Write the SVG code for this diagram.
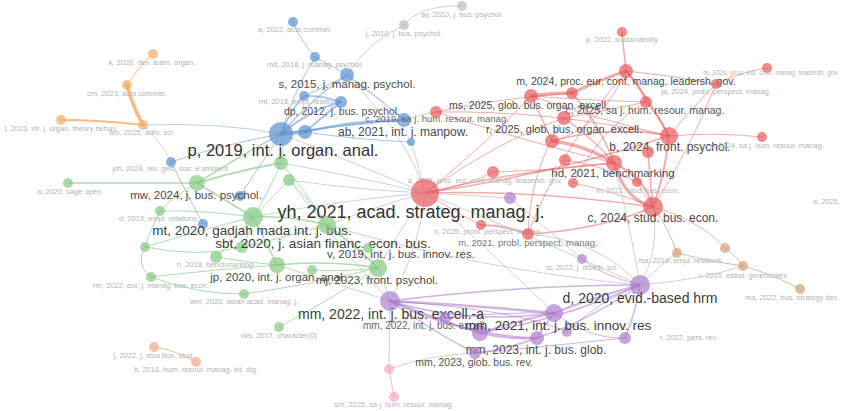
<svg xmlns="http://www.w3.org/2000/svg" width="841" height="411" viewBox="0 0 841 411">
<style>
text{font-family:"Liberation Sans",Arial,sans-serif;text-anchor:middle}
.f{font-size:7.5px;fill:#b4b4b4}
.s{font-size:10px;fill:#666}
.m{font-size:11.5px;fill:#4a4a4a}
.l{font-size:13.5px;fill:#3c3c3c}
.xl{font-size:16.5px;fill:#333}
.xxl{font-size:18px;fill:#333}
path{fill:none;stroke-linecap:round}
.er{stroke:#e5595e;stroke-opacity:.5}
.eb{stroke:#5f93d3;stroke-opacity:.55}
.eg{stroke:#7cc47c;stroke-opacity:.6}
.ep{stroke:#a268c6;stroke-opacity:.5}
.eo{stroke:#f5a04e;stroke-opacity:.7}
.ek{stroke:#c6c6c6;stroke-opacity:.8}
.en{stroke:#d0a080;stroke-opacity:.7}
.ei{stroke:#f2a6c6;stroke-opacity:.7}
.es{stroke:#f4a58a;stroke-opacity:.7}
circle{fill-opacity:.7}
.cr{fill:#e8585d}
.cb{fill:#5b90d2}
.cg{fill:#86c985}
.cp{fill:#ad7fcd}
.co{fill:#f7ad62}
.cn{fill:#d39e78}
.ci{fill:#f4a8c7}
.cs{fill:#f6a688}
.ck{fill:#bdbdbd}
</style>
<rect width="841" height="411" fill="#fff"/>
<g id="connectors">
<path class="eo" stroke-width="1" d="M153,54 Q138,68 127,85"/>
<path class="eo" stroke-width="3.5" d="M127,85 Q132,105 143,125"/>
<path class="eo" stroke-width="1.8" d="M61,120 Q100,120 143,125"/>
<path class="eb" stroke-width="0.8" d="M143,125 Q220,122 281,134"/>
<path class="ek" stroke-width="0.8" d="M143,125 Q160,140 171,162"/>
<path class="eb" stroke-width="4" d="M281,134 L305,132"/>
<path class="eb" stroke-width="1.5" d="M281,134 Q310,100 347,75"/>
<path class="eb" stroke-width="1" d="M281,134 Q292,95 315,57"/>
<path class="eb" stroke-width="1.5" d="M281,134 Q290,110 304,96"/>
<path class="eb" stroke-width="2" d="M281,134 Q310,110 341,102"/>
<path class="eb" stroke-width="1.5" d="M304,96 Q322,95 341,102"/>
<path class="eb" stroke-width="2" d="M305,132 Q325,115 341,102"/>
<path class="eb" stroke-width="2.5" d="M305,132 Q355,120 404,120"/>
<path class="eb" stroke-width="1.5" d="M281,134 Q340,125 404,120"/>
<path class="eb" stroke-width="1" d="M305,132 Q360,140 411,142"/>
<path class="eb" stroke-width="1" d="M293,22 Q300,40 315,57"/>
<path class="eb" stroke-width="1" d="M315,57 Q330,65 347,75"/>
<path class="eb" stroke-width="1.2" d="M347,75 Q375,95 404,120"/>
<path class="eb" stroke-width="1" d="M281,134 Q220,145 171,162"/>
<path class="eb" stroke-width="1" d="M281,134 Q260,165 240,196"/>
<path class="eb" stroke-width="1" d="M171,162 Q185,190 203,224"/>
<path class="eb" stroke-width="1" d="M304,96 Q330,85 347,75"/>
<path class="ek" stroke-width="1" d="M462,6 Q420,5 404,25"/>
<path class="ek" stroke-width="1" d="M404,25 Q370,40 347,75"/>
<path class="ek" stroke-width="1" d="M347,75 Q410,140 425,193"/>
<path class="ek" stroke-width="1" d="M404,120 Q420,115 436,112"/>
<path class="er" stroke-width="3.5" d="M531,96 Q550,93 572,93"/>
<path class="er" stroke-width="3" d="M572,93 Q600,80 626,71"/>
<path class="er" stroke-width="1.5" d="M626,71 L622,32"/>
<path class="er" stroke-width="1" d="M626,71 Q670,75 716,84"/>
<path class="er" stroke-width="1" d="M716,84 Q740,72 767,68"/>
<path class="er" stroke-width="1.5" d="M626,71 Q640,85 646,102"/>
<path class="er" stroke-width="2" d="M626,71 Q650,100 669,136"/>
<path class="er" stroke-width="1.5" d="M646,102 Q660,118 669,136"/>
<path class="er" stroke-width="1" d="M669,136 Q715,132 762,137"/>
<path class="er" stroke-width="2" d="M669,136 Q665,175 653,207"/>
<path class="er" stroke-width="3.5" d="M552,141 Q585,145 614,163"/>
<path class="er" stroke-width="3" d="M614,163 Q625,200 653,207"/>
<path class="er" stroke-width="2" d="M614,163 Q645,178 653,207"/>
<path class="er" stroke-width="1.5" d="M564,118 Q595,140 614,163"/>
<path class="er" stroke-width="1.5" d="M572,93 Q600,125 614,163"/>
<path class="er" stroke-width="1.5" d="M531,96 Q545,125 552,141"/>
<path class="er" stroke-width="1" d="M436,112 Q500,98 572,93"/>
<path class="er" stroke-width="1" d="M436,112 Q550,110 669,136"/>
<path class="er" stroke-width="1" d="M436,112 Q520,140 614,163"/>
<path class="er" stroke-width="1.5" d="M425,193 Q520,170 614,163"/>
<path class="er" stroke-width="1.5" d="M425,193 Q550,175 669,136"/>
<path class="er" stroke-width="1" d="M425,193 Q480,150 531,96"/>
<path class="er" stroke-width="1" d="M425,193 Q500,140 564,118"/>
<path class="er" stroke-width="1.5" d="M425,193 Q540,190 653,207"/>
<path class="er" stroke-width="1" d="M425,193 Q470,185 493,172"/>
<path class="er" stroke-width="1" d="M425,193 Q460,215 481,225"/>
<path class="er" stroke-width="2" d="M481,225 Q505,225 528,234"/>
<path class="er" stroke-width="1.5" d="M528,234 Q600,230 653,207"/>
<path class="er" stroke-width="1" d="M565,160 Q600,165 637,182"/>
<path class="er" stroke-width="1" d="M573,183 Q610,190 653,207"/>
<path class="er" stroke-width="1.5" d="M648,152 Q650,180 653,207"/>
<path class="er" stroke-width="1" d="M637,182 Q645,195 653,207"/>
<path class="er" stroke-width="1" d="M626,71 Q600,130 552,141"/>
<path class="er" stroke-width="1" d="M646,102 Q600,130 573,183"/>
<path class="er" stroke-width="1" d="M716,84 Q690,110 669,136"/>
<path class="er" stroke-width="1" d="M716,84 Q690,150 653,207"/>
<path class="er" stroke-width="1" d="M531,96 Q580,100 646,102"/>
<path class="er" stroke-width="1" d="M564,118 Q610,110 646,102"/>
<path class="er" stroke-width="1.5" d="M552,141 Q610,125 669,136"/>
<path class="er" stroke-width="1" d="M531,96 Q600,120 669,136"/>
<path class="er" stroke-width="1" d="M493,172 Q560,170 614,163"/>
<path class="er" stroke-width="1" d="M564,118 Q530,170 528,234"/>
<path class="er" stroke-width="1" d="M626,71 Q560,150 528,234"/>
<path class="eg" stroke-width="1.5" d="M68,183 Q130,183 197,183"/>
<path class="eg" stroke-width="2" d="M197,183 Q240,170 281,163"/>
<path class="eg" stroke-width="1.5" d="M197,183 Q250,150 281,134"/>
<path class="eg" stroke-width="1" d="M281,163 Q270,190 253,217"/>
<path class="eg" stroke-width="1" d="M289,180 Q270,200 253,217"/>
<path class="eg" stroke-width="1" d="M253,217 Q205,210 160,211"/>
<path class="eg" stroke-width="1" d="M253,217 Q200,230 145,247"/>
<path class="eg" stroke-width="1" d="M253,217 Q235,240 216,257"/>
<path class="eg" stroke-width="1.5" d="M253,217 Q290,215 327,225"/>
<path class="eg" stroke-width="1.5" d="M253,217 Q265,240 277,265"/>
<path class="eg" stroke-width="1" d="M253,217 Q250,235 242,247"/>
<path class="eg" stroke-width="2" d="M327,225 Q355,245 378,268"/>
<path class="eg" stroke-width="1.5" d="M277,265 Q330,260 378,268"/>
<path class="eg" stroke-width="1" d="M277,265 Q210,270 151,277"/>
<path class="eg" stroke-width="1" d="M151,277 Q200,295 244,294"/>
<path class="eg" stroke-width="1" d="M244,294 Q310,285 378,268"/>
<path class="eg" stroke-width="1" d="M279,327 Q330,300 378,268"/>
<path class="eg" stroke-width="1" d="M197,183 Q175,195 160,211"/>
<path class="eg" stroke-width="1" d="M160,211 Q150,230 145,247"/>
<path class="eg" stroke-width="1" d="M145,247 Q200,258 242,247"/>
<path class="eg" stroke-width="1" d="M216,257 Q245,262 277,265"/>
<path class="eg" stroke-width="1.5" d="M197,183 Q225,200 253,217"/>
<path class="eg" stroke-width="1" d="M242,247 Q275,240 327,225"/>
<path class="eg" stroke-width="1" d="M289,180 Q310,200 327,225"/>
<path class="eg" stroke-width="1" d="M281,163 Q305,190 327,225"/>
<path class="eg" stroke-width="1" d="M312,270 Q345,272 378,268"/>
<path class="eg" stroke-width="1" d="M145,247 Q135,265 151,277"/>
<path class="eg" stroke-width="1" d="M281,134 Q285,150 281,163"/>
<path class="ek" stroke-width="1" d="M281,163 Q350,175 425,193"/>
<path class="ek" stroke-width="1" d="M289,180 Q360,190 425,193"/>
<path class="ek" stroke-width="1" d="M253,217 Q340,200 425,193"/>
<path class="ek" stroke-width="1" d="M327,225 Q380,205 425,193"/>
<path class="ek" stroke-width="1" d="M378,268 Q400,230 425,193"/>
<path class="ek" stroke-width="1" d="M281,134 Q360,165 425,193"/>
<path class="ek" stroke-width="1" d="M425,193 Q420,250 390,301"/>
<path class="ek" stroke-width="1" d="M425,193 Q540,240 640,285"/>
<path class="ek" stroke-width="1" d="M425,193 Q500,260 554,313"/>
<path class="ek" stroke-width="1" d="M653,207 Q660,250 640,285"/>
<path class="ek" stroke-width="1" d="M640,285 Q660,265 677,253"/>
<path class="ek" stroke-width="1" d="M640,285 Q700,280 743,266"/>
<path class="ek" stroke-width="1" d="M390,301 L389,369"/>
<path class="ek" stroke-width="1" d="M389,369 Q430,355 475,353"/>
<path class="ek" stroke-width="1" d="M614,163 Q630,225 640,285"/>
<path class="ek" stroke-width="1" d="M277,265 Q340,285 390,301"/>
<path class="ek" stroke-width="1" d="M378,268 Q385,285 390,301"/>
<path class="ek" stroke-width="1" d="M289,180 Q350,260 390,301"/>
<path class="ek" stroke-width="1" d="M528,234 Q600,240 640,285"/>
<path class="ek" stroke-width="1" d="M510,198 Q560,240 582,259"/>
<path class="ek" stroke-width="1" d="M425,193 Q470,195 510,198"/>
<path class="ek" stroke-width="1" d="M327,225 Q480,270 640,285"/>
<path class="ek" stroke-width="1" d="M411,142 Q420,170 425,193"/>
<path class="en" stroke-width="1" d="M653,207 Q670,230 677,253"/>
<path class="en" stroke-width="1" d="M653,207 Q700,220 725,248"/>
<path class="en" stroke-width="1" d="M677,253 Q710,262 743,266"/>
<path class="en" stroke-width="1" d="M725,248 Q735,255 743,266"/>
<path class="en" stroke-width="1" d="M743,266 Q775,275 800,289"/>
<path class="ep" stroke-width="2.5" d="M390,301 Q470,305 554,313"/>
<path class="ep" stroke-width="1.5" d="M390,301 Q470,325 554,313"/>
<path class="ep" stroke-width="1.5" d="M390,301 Q520,285 640,285"/>
<path class="ep" stroke-width="1.5" d="M390,301 Q430,330 475,353"/>
<path class="ep" stroke-width="2" d="M390,301 Q440,320 480,333"/>
<path class="ep" stroke-width="1.5" d="M390,301 Q460,335 537,338"/>
<path class="ep" stroke-width="2" d="M554,313 Q600,295 640,285"/>
<path class="ep" stroke-width="1.5" d="M554,313 Q545,325 537,338"/>
<path class="ep" stroke-width="2" d="M480,333 Q520,320 554,313"/>
<path class="ep" stroke-width="2" d="M480,333 Q510,340 537,338"/>
<path class="ep" stroke-width="1.5" d="M537,338 Q590,320 640,285"/>
<path class="ep" stroke-width="1.5" d="M537,338 Q505,350 475,353"/>
<path class="ep" stroke-width="1.5" d="M640,285 Q635,315 625,338"/>
<path class="ep" stroke-width="1" d="M625,338 Q590,340 554,313"/>
<path class="ep" stroke-width="1.5" d="M640,285 Q560,320 480,333"/>
<path class="ep" stroke-width="1" d="M445,318 Q500,312 554,313"/>
<path class="ep" stroke-width="1" d="M567,332 Q600,300 640,285"/>
<path class="ep" stroke-width="1" d="M390,301 Q520,310 567,332"/>
<path class="ep" stroke-width="1" d="M475,353 Q560,345 625,338"/>
<path class="ep" stroke-width="1" d="M582,259 Q600,275 640,285"/>
<path class="ei" stroke-width="1.2" d="M389,369 L394,397"/>
<path class="es" stroke-width="1.2" d="M154,347 Q175,350 196,362"/>
</g>

<g id="o1"><circle class="co" cx="153" cy="54" r="5"/><text class="f" x="152" y="65">k, 2020, dev. learn. organ.</text></g>
<g id="o2"><circle class="co" cx="127" cy="85" r="5"/><text class="f" x="127" y="96">cm, 2023, acta commer.</text></g>
<g id="o3"><circle class="co" cx="143" cy="125" r="5"/><text class="f" x="142" y="135">am, 2025, adm. sci.</text></g>
<g id="o4"><circle class="co" cx="61" cy="120" r="5"/><text class="f" x="61" y="131">l, 2023, int. j. organ. theory behav.</text></g>
<g id="g1"><circle class="ck" cx="462" cy="6" r="5"/><text class="f" x="462" y="17">ay, 2010, j. bus. psychol.</text></g>
<g id="g2"><circle class="ck" cx="404" cy="25" r="5"/><text class="f" x="404" y="36">j, 2010, j. bus. psychol.</text></g>
<g id="b_a"><circle class="cb" cx="293" cy="22" r="5"/><text class="f" x="295" y="32">a, 2022, acta commer.</text></g>
<g id="b_md"><circle class="cb" cx="315" cy="57" r="5"/><text class="f" x="315" y="67">md, 2018, j. manag. psychol.</text></g>
<g id="b_s"><circle class="cb" cx="347" cy="75" r="7"/><text class="m" x="347" y="88">s, 2015, j. manag. psychol.</text></g>
<g id="b_mf"><circle class="cb" cx="304" cy="96" r="5"/><text class="f" x="300" y="104">mf, 2018, empl. relations</text></g>
<g id="b_dp"><circle class="cb" cx="341" cy="102" r="6"/><text class="s" x="342" y="115" style="font-size:10.5px;fill:#555">dp, 2012, j. bus. psychol.</text></g>
<g id="b_ab"><circle class="cb" cx="404" cy="120" r="7"/><text class="s" x="437" y="122" style="font-size:9.5px">c, 2019, sa j. hum. resour. manag.</text><text class="m" x="403" y="136" style="font-size:12px">ab, 2021, int. j. manpow.</text></g>
<g id="b_c2"><circle class="cb" cx="411" cy="142" r="4"/></g>
<g id="b_p2"><circle class="cb" cx="305" cy="132" r="7"/></g>
<g id="b_p"><circle class="cb" cx="281" cy="134" r="12"/><text class="xl" x="283" y="156">p, 2019, int. j. organ. anal.</text></g>
<g id="b_yth"><circle class="cb" cx="171" cy="162" r="5"/><text class="f" x="170" y="171">yth, 2024, rev. gest. soc. e ambient</text></g>
<g id="b_mw"><circle class="cb" cx="240" cy="196" r="5"/></g>
<g id="b_mt"><circle class="cb" cx="203" cy="224" r="5"/></g>
<g id="r_p"><circle class="cr" cx="622" cy="32" r="5"/><text class="f" x="622" y="42">p, 2022, sustainability</text></g>
<g id="r_m"><circle class="cr" cx="626" cy="71" r="7"/><text class="s" x="626" y="85" style="font-size:10.5px;fill:#4a4a4a">m, 2024, proc. eur. conf. manag. leadersh. gov.</text></g>
<g id="r_ja"><circle class="cr" cx="716" cy="84" r="5"/><text class="f" x="716" y="94">ja, 2024, probl. perspect. manag.</text></g>
<g id="r_far"><circle class="cr" cx="767" cy="68" r="5"/><text class="f" x="839" y="75" style="text-anchor:end;font-size:6.5px">m, 2024, proc. eur. conf. manag. leadersh. gov.</text></g>
<g id="r_c25"><circle class="cr" cx="646" cy="102" r="6"/><text class="s" x="645" y="114" style="font-size:10.5px;fill:#555">c, 2025, sa j. hum. resour. manag.</text></g>
<g id="r_ms"><circle class="cr" cx="531" cy="96" r="7"/><text class="s" x="529" y="109" style="font-size:10.5px;fill:#4a4a4a">ms, 2025, glob. bus. organ. excell.</text></g>
<g id="r_x"><circle class="cr" cx="572" cy="93" r="6"/></g>
<g id="r_r"><circle class="cr" cx="564" cy="118" r="7"/><text class="m" x="564" y="133" style="font-size:11px">r, 2025, glob. bus. organ. excell.</text></g>
<g id="r_b"><circle class="cr" cx="669" cy="136" r="9"/><text class="m" x="670" y="151" style="font-size:12px">b, 2024, front. psychol.</text></g>
<g id="r_y"><circle class="cr" cx="552" cy="141" r="7"/></g>
<g id="r_far2"><circle class="cr" cx="762" cy="137" r="5"/><text class="f" x="767" y="148">c, 2024, sa j. hum. resour. manag.</text></g>
<g id="r_w"><circle class="cr" cx="648" cy="152" r="6"/></g>
<g id="r_v"><circle class="cr" cx="565" cy="160" r="6"/></g>
<g id="r_hd"><circle class="cr" cx="614" cy="163" r="8"/><text class="m" x="613" y="177">hd, 2021, benchmarking</text></g>
<g id="r_n"><circle class="cr" cx="573" cy="183" r="5"/></g>
<g id="r_s"><circle class="cr" cx="637" cy="182" r="5"/><text class="f" x="638" y="193">m, 2021, stud. bus. econ.</text></g>
<g id="r_c24"><circle class="cr" cx="653" cy="207" r="10"/><text class="m" x="653" y="222" style="font-size:12px">c, 2024, stud. bus. econ.</text></g>
<g id="r_x2"><circle class="cr" cx="436" cy="112" r="6"/></g>
<g id="r_a22"><circle class="cr" cx="493" cy="172" r="6"/><text class="f" x="485" y="183">a, 2022, proc. eur. conf. manag. leadersh. gov.</text></g>
<g id="r_pp"><circle class="cr" cx="481" cy="225" r="5"/><text class="f" x="488" y="234">n, 2025, probl. perspect. manag.</text></g>
<g id="r_m21"><circle class="cr" cx="528" cy="234" r="6"/><text class="s" x="528" y="246" style="font-size:9.5px;fill:#777">m, 2021, probl. perspect. manag.</text></g>
<g id="r_yh"><circle class="cr" cx="425" cy="193" r="14"/><text class="xxl" x="411" y="218">yh, 2021, acad. strateg. manag. j.</text></g>
<g id="gr_a"><circle class="cg" cx="68" cy="183" r="5"/><text class="f" x="69" y="194">a, 2020, sage open</text></g>
<g id="gr_mw"><circle class="cg" cx="197" cy="183" r="8"/><text class="m" x="196" y="199">mw, 2024, j. bus. psychol.</text></g>
<g id="gr_1"><circle class="cg" cx="281" cy="163" r="7"/></g>
<g id="gr_2"><circle class="cg" cx="289" cy="180" r="6"/></g>
<g id="gr_d"><circle class="cg" cx="160" cy="211" r="5"/><text class="f" x="158" y="221">d, 2019, empl. relations</text></g>
<g id="gr_mt"><circle class="cg" cx="253" cy="217" r="10"/><text class="l" x="252" y="235">mt, 2020, gadjah mada int. j. bus.</text></g>
<g id="gr_3"><circle class="cg" cx="145" cy="247" r="5"/></g>
<g id="gr_4"><circle class="cg" cx="242" cy="247" r="6"/></g>
<g id="gr_sbt"><circle class="cg" cx="327" cy="225" r="9"/><text class="l" x="323" y="248">sbt, 2020, j. asian financ. econ. bus.</text></g>
<g id="gr_v"><circle class="cg" cx="368" cy="248" r="5"/><text class="m" x="401" y="258">v, 2019, int. j. bus. innov. res.</text></g>
<g id="gr_n"><circle class="cg" cx="216" cy="257" r="6"/><text class="f" x="215" y="267">n, 2018, benchmarking</text></g>
<g id="gr_jp"><circle class="cg" cx="277" cy="265" r="8"/><text class="m" x="278" y="281">jp, 2020, int. j. organ. anal.</text></g>
<g id="gr_5"><circle class="cg" cx="312" cy="270" r="5"/></g>
<g id="gr_mj"><circle class="cg" cx="378" cy="268" r="9"/><text class="m" x="377" y="284">mj, 2023, front. psychol.</text></g>
<g id="gr_rm"><circle class="cg" cx="151" cy="277" r="5"/><text class="f" x="151" y="288">rm, 2022, eur. j. manag. bus. econ.</text></g>
<g id="gr_wm"><circle class="cg" cx="244" cy="294" r="5"/><text class="f" x="244" y="304">wm, 2020, asian acad. manag. j.</text></g>
<g id="gr_vks"><circle class="cg" cx="279" cy="327" r="5"/><text class="f" x="279" y="338">vks, 2017, character(0)</text></g>
<g id="s1"><circle class="cs" cx="154" cy="347" r="5"/><text class="f" x="154" y="358">j, 2022, j. asia bus. stud.</text></g>
<g id="s2"><circle class="cs" cx="196" cy="362" r="5"/><text class="f" x="196" y="372">b, 2018, hum. resour. manag. int. dig.</text></g>
<g id="pk1"><circle class="ci" cx="389" cy="369" r="5"/></g>
<g id="pk2"><circle class="ci" cx="394" cy="397" r="5"/><text class="f" x="394" y="407">sm, 2025, sa j. hum. resour. manag.</text></g>
<g id="br1"><circle class="cn" cx="677" cy="253" r="5"/><text class="f" x="680" y="263">ma, 2018, empl. relations</text></g>
<g id="br2"><circle class="cn" cx="725" cy="248" r="5"/></g>
<g id="br3"><circle class="cn" cx="743" cy="266" r="5"/><text class="f" x="743" y="278">r, 2019, estud. gerenciales</text></g>
<g id="br4"><circle class="cn" cx="800" cy="289" r="5"/><text class="f" x="839" y="300" style="text-anchor:end">ma, 2022, bus. strategy dev.</text></g>
<g id="edge_label"><text class="f" x="813" y="204" style="text-anchor:start">a, 2025,</text></g>
<g id="p_s"><circle class="cp" cx="510" cy="198" r="6"/></g>
<g id="p_ts"><circle class="cp" cx="582" cy="259" r="5"/><text class="f" x="582" y="270">ts, 2022, j. distrib. sci.</text></g>
<g id="p_mm22"><circle class="cp" cx="390" cy="301" r="10"/><text class="l" x="391" y="319" style="font-size:14px">mm, 2022, int. j. bus. excell.-a</text></g>
<g id="p_b"><circle class="cp" cx="445" cy="318" r="6"/><text class="s" x="425" y="329">mm, 2022, int. j. bus. excell.</text></g>
<g id="p_e1"><circle class="cp" cx="480" cy="333" r="8"/></g>
<g id="p_e2"><circle class="cp" cx="567" cy="332" r="5"/></g>
<g id="p_mm21"><circle class="cp" cx="554" cy="313" r="9"/><text class="l" x="558" y="330">mm, 2021, int. j. bus. innov. res</text></g>
<g id="p_d"><circle class="cp" cx="640" cy="285" r="10"/><text class="l" x="640" y="303" style="font-size:14px">d, 2020, evid.-based hrm</text></g>
<g id="p_r22"><circle class="cp" cx="625" cy="338" r="6"/><text class="f" x="660" y="340" style="text-anchor:start">r, 2022, pers. rev.</text></g>
<g id="p_mm23"><circle class="cp" cx="537" cy="338" r="7"/><text class="m" x="536" y="354" style="font-size:12px">mm, 2023, int. j. bus. glob.</text></g>
<g id="p_glob"><circle class="cp" cx="475" cy="353" r="6"/><text class="s" x="474" y="366" style="font-size:10.5px;fill:#555">mm, 2023, glob. bus. rev.</text></g>
</svg>
